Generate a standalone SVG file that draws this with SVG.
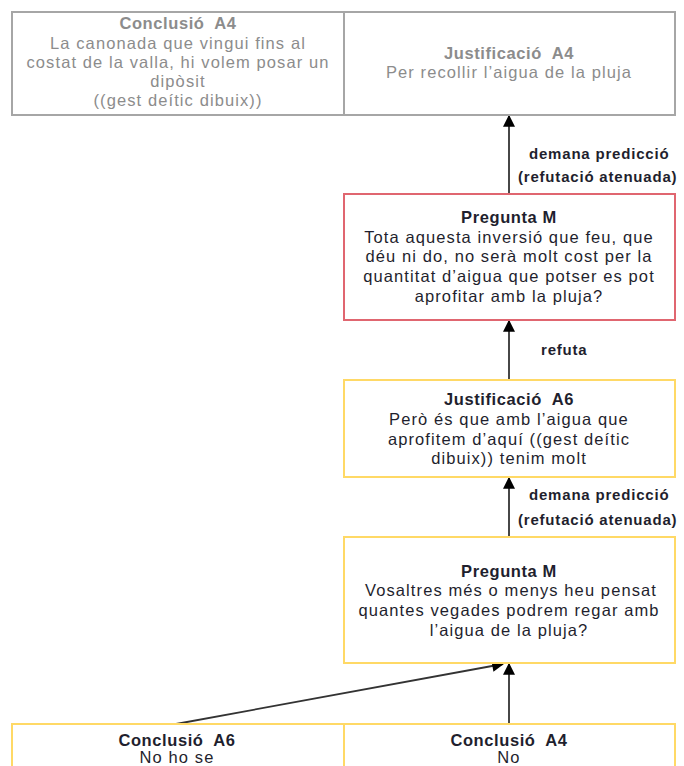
<svg xmlns="http://www.w3.org/2000/svg" width="684" height="766" viewBox="0 0 684 766">
  <style>
    .box { fill: #ffffff; stroke-width: 2; }
    .grey { stroke: #a6a6a6; }
    .red { stroke: #e06670; }
    .yellow { stroke: #ffd966; }
    text { font-family: "Liberation Sans", "Open Sans", sans-serif; font-size: 16.5px; letter-spacing: 1.1px; text-anchor: middle; dominant-baseline: central; }
    .muted { fill: #8c8c8c; }
    .dark { fill: #1f1f2e; }
    .title { font-weight: bold; letter-spacing: 0.6px; white-space: pre; }
    .lbl { font-weight: bold; font-size: 15px; letter-spacing: 0.8px; fill: #1f1f2e; text-anchor: start; }
    .edge { stroke: #333333; stroke-width: 1.8; fill: none; marker-end: url(#arrow); }
  </style>
  <defs>
    <marker id="arrow" viewBox="0 0 10 10" refX="9" refY="5" markerWidth="14" markerHeight="12" markerUnits="userSpaceOnUse" orient="auto">
      <path d="M0,0 L10,5 L0,10 z" fill="#000000"/>
    </marker>
  </defs>

  <rect width="684" height="766" fill="#ffffff"/>

  <!-- connectors -->
  <g id="connectors">
    <line class="edge" x1="509" y1="194" x2="509" y2="116"/>
    <line class="edge" x1="509" y1="380" x2="509" y2="321"/>
    <line class="edge" x1="509" y1="537" x2="509" y2="478"/>
    <line class="edge" x1="509" y1="724" x2="509" y2="664"/>
    <line class="edge" x1="176" y1="724" x2="503" y2="664"/>
    <text class="lbl" x="529" y="153">demana predicció</text>
    <text class="lbl" x="518" y="176">(refutació atenuada)</text>
    <text class="lbl" x="541" y="349">refuta</text>
    <text class="lbl" x="529" y="494">demana predicció</text>
    <text class="lbl" x="518" y="519">(refutació atenuada)</text>
  </g>

  <!-- top row -->
  <g id="conclusio-a4-top">
    <rect class="box grey" x="12" y="12" width="332" height="103"/>
    <text class="muted title" x="178" y="23" xml:space="preserve">Conclusió  A4</text>
    <text class="muted" x="178" y="43">La canonada que vingui fins al</text>
    <text class="muted" x="178" y="62">costat de la valla, hi volem posar un</text>
    <text class="muted" x="178" y="81">dipòsit</text>
    <text class="muted" x="178" y="100">((gest deític dibuix))</text>
  </g>
  <g id="justificacio-a4">
    <rect class="box grey" x="344" y="12" width="331" height="103"/>
    <text class="muted title" x="509" y="53" xml:space="preserve">Justificació  A4</text>
    <text class="muted" x="509" y="72">Per recollir l’aigua de la pluja</text>
  </g>

  <!-- question, red -->
  <g id="pregunta-m-1">
    <rect class="box red" x="344" y="194" width="331" height="126"/>
    <text class="dark title" x="509" y="217">Pregunta M</text>
    <text class="dark" x="509" y="237">Tota aquesta inversió que feu, que</text>
    <text class="dark" x="509" y="256">déu ni do, no serà molt cost per la</text>
    <text class="dark" x="509" y="276">quantitat d’aigua que potser es pot</text>
    <text class="dark" x="509" y="296">aprofitar amb la pluja?</text>
  </g>

  <g id="justificacio-a6">
    <rect class="box yellow" x="344" y="380" width="331" height="97"/>
    <text class="dark title" x="509" y="399" xml:space="preserve">Justificació  A6</text>
    <text class="dark" x="509" y="419">Però és que amb l’aigua que</text>
    <text class="dark" x="509" y="439">aprofitem d’aquí ((gest deític</text>
    <text class="dark" x="509" y="458">dibuix)) tenim molt</text>
  </g>

  <g id="pregunta-m-2">
    <rect class="box yellow" x="344" y="537" width="331" height="126"/>
    <text class="dark title" x="509" y="571">Pregunta M</text>
    <text class="dark" x="511" y="590">Vosaltres més o menys heu pensat</text>
    <text class="dark" x="509" y="610">quantes vegades podrem regar amb</text>
    <text class="dark" x="509" y="630">l’aigua de la pluja?</text>
  </g>

  <!-- bottom row -->
  <g id="conclusio-a6">
    <rect class="box yellow" x="12" y="724" width="332" height="60"/>
    <text class="dark title" x="177" y="740" xml:space="preserve">Conclusió  A6</text>
    <text class="dark" x="177" y="757">No ho se</text>
  </g>
  <g id="conclusio-a4-bottom">
    <rect class="box yellow" x="344" y="724" width="331" height="60"/>
    <text class="dark title" x="509" y="740" xml:space="preserve">Conclusió  A4</text>
    <text class="dark" x="509" y="757">No</text>
  </g>
</svg>
